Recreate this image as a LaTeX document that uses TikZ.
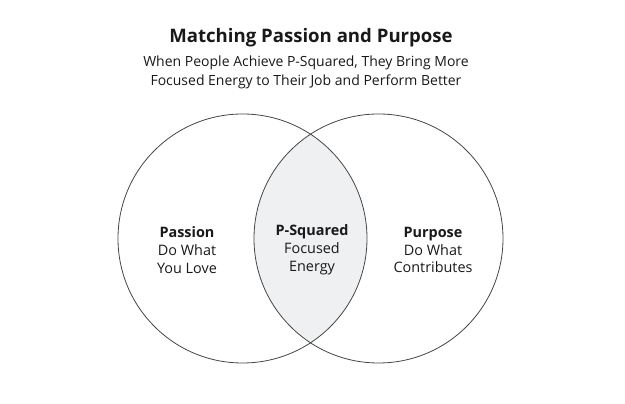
\documentclass[tikz,border=0pt]{standalone}
\usepackage{fontspec}
\setmainfont{Open Sans}
\usepackage{tikz}
\usetikzlibrary{positioning}

\definecolor{lensgray}{RGB}{238,240,241}
\definecolor{linegray}{RGB}{70,70,70}
\definecolor{textgray}{RGB}{25,25,25}

\begin{document}
\begin{tikzpicture}[x = 1pt, y = 1pt,
  label/.style = {align = center, text = textgray, font = \fontsize{14.4}{17.8}\selectfont},
  ring/.style = {draw = linegray, line width = 0.8pt}]
\useasboundingbox (0, 0) rectangle (625, 404);
\coordinate (lc) at (242.5, 165.5);
\coordinate (rc) at (378.5, 165.5);
% shaded overlap
\begin{scope}
\clip (lc) circle (124.5);
\fill[lensgray] (rc) circle (124.5);
\end{scope}
\draw[ring] (lc) circle (124.5);
\draw[ring] (rc) circle (124.5);
\node (title) at (311, 366) [text = textgray, font = \fontsize{18.6}{22}\bfseries] {Matching Passion and Purpose};
\node (sub) at (306, 331.5) [label, font = \fontsize{14}{19}\selectfont]
  {When People Achieve P-Squared, They Bring More\\Focused Energy to Their Job and Perform Better};
\node (passion) at (187, 154) [label] {\textbf{Passion}\\Do What\\You Love};
\node (psq) at (312, 154) [label] {\textbf{P-Squared}\\Focused\\Energy};
\node (purpose) at (433, 154) [label] {\textbf{Purpose}\\Do What\\Contributes};
%\draw[dashed] (lc) -- (rc);
\end{tikzpicture}
\end{document}
